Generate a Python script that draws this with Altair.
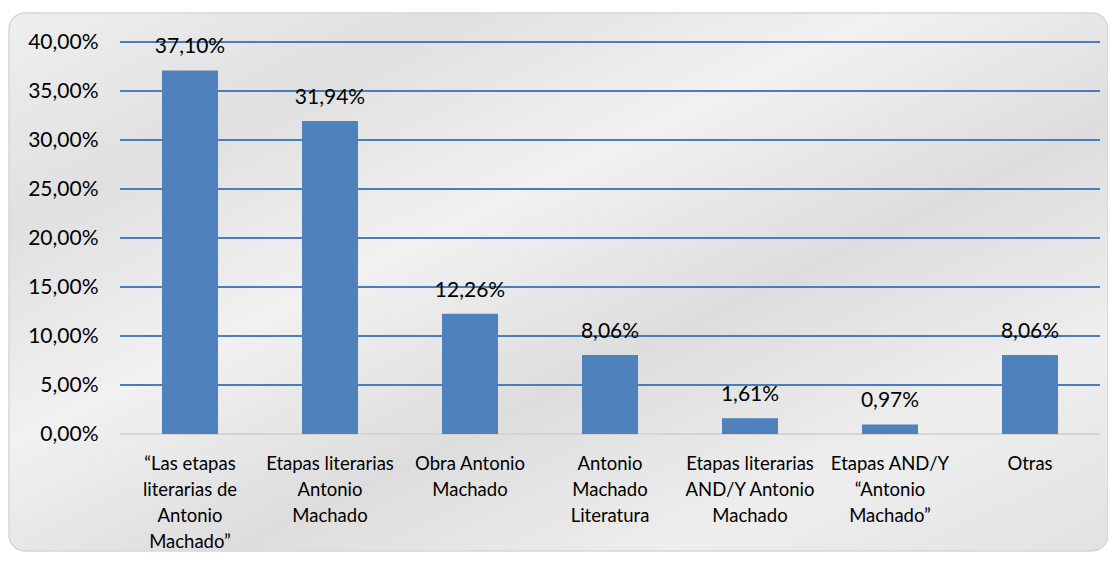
import altair as alt
import pandas as pd

categories = [
    "“Las etapas\nliterarias de\nAntonio\nMachado”",
    "Etapas literarias\nAntonio\nMachado",
    "Obra Antonio\nMachado",
    "Antonio\nMachado\nLiteratura",
    "Etapas literarias\nAND/Y Antonio\nMachado",
    "Etapas AND/Y\n“Antonio\nMachado”",
    "Otras",
]
values = [0.3710, 0.3194, 0.1226, 0.0806, 0.0161, 0.0097, 0.0806]
y_ticks = [0.0, 0.05, 0.10, 0.15, 0.20, 0.25, 0.30, 0.35, 0.40]

FONT = "Lato"
W, H = 980, 392

df = pd.DataFrame({"cat": categories, "val": values})
df["label"] = [f"{v * 100:.2f}".replace(".", ",") + "%" for v in values]
ticks_df = pd.DataFrame({"t": y_ticks})
ticks_df["col"] = ["#d4d4d4" if t == 0 else "#4A7EBB" for t in y_ticks]

yscale = alt.Scale(domain=[0, 0.4], nice=False, zero=True)
xscale = alt.Scale(domain=categories, paddingInner=0, paddingOuter=0)

bg = alt.Chart(pd.DataFrame({"a": [0]})).mark_rect(
    cornerRadius=16,
    stroke="#d6d6d6",
    strokeWidth=1.5,
    fill=alt.Gradient(
        gradient="linear",
        x1=0, y1=0, x2=1, y2=1,
        stops=[
            alt.GradientStop(color="#efefef", offset=0),
            alt.GradientStop(color="#e0e0e0", offset=0.2),
            alt.GradientStop(color="#f1f1f1", offset=0.4),
            alt.GradientStop(color="#dddddd", offset=0.6),
            alt.GradientStop(color="#eeeeee", offset=0.8),
            alt.GradientStop(color="#e2e2e2", offset=1),
        ],
    ),
).encode(
    x=alt.value(-111), x2=alt.value(988),
    y=alt.value(-29), y2=alt.value(509),
)

grid = alt.Chart(ticks_df).mark_rule(strokeWidth=2).encode(
    y=alt.Y("t:Q", scale=yscale, axis=alt.Axis(
        values=y_ticks, grid=False, domain=False, ticks=False,
        labelExpr="replace(format(datum.value, '.2%'), '.', ',')",
        labelFont=FONT, labelFontSize=21, labelColor="#000000",
        labelPadding=22, title=None, zindex=2,
    )),
    color=alt.Color("col:N", scale=None),
)

bars = alt.Chart(df).mark_bar(color="#4F81BD", size=56).encode(
    x=alt.X("cat:N", scale=xscale, sort=categories, axis=alt.Axis(
        labelAngle=0, domain=False, ticks=False, grid=False,
        labelExpr="split(datum.label, '\\n')",
        labelFont=FONT, labelFontSize=18.5, labelColor="#000000",
        labelLineHeight=26, labelBaseline="top", labelPadding=20,
        labelOverlap=False, labelLimit=300, title=None, zindex=2,
    )),
    y=alt.Y("val:Q", scale=yscale),
)

texts = alt.Chart(df).mark_text(
    font=FONT, fontSize=21, color="#000000", baseline="alphabetic", dy=-17
).encode(
    x=alt.X("cat:N", scale=xscale, sort=categories),
    y=alt.Y("val:Q", scale=yscale),
    text="label:N",
)

chart = alt.layer(bg, grid, bars, texts).properties(
    width=W, height=H,
    autosize=alt.AutoSizeParams(type="none"),
    padding={"left": 112, "top": 34, "right": 8, "bottom": 122},
    background="white",
).configure_view(stroke=None)

chart.save("out.html", embed_options={"renderer": "svg", "actions": False})
